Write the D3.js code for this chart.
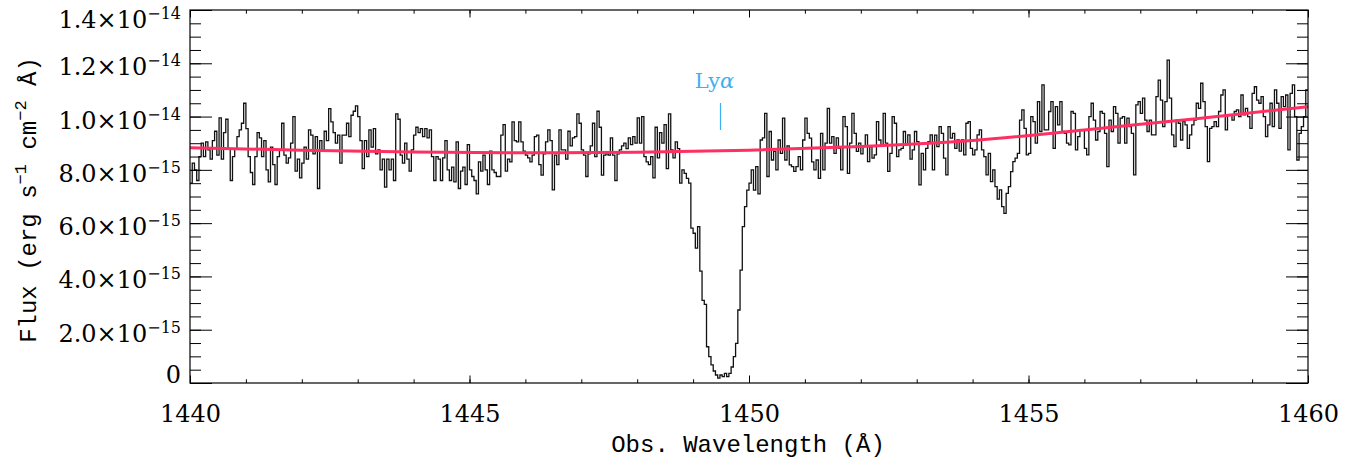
<!DOCTYPE html>
<html><head><meta charset="utf-8">
<script src="https://cdn.jsdelivr.net/npm/d3@7"></script>
<style>
body{margin:0;background:#fff}
svg{display:block}
text{font-family:"DejaVu Serif",serif;fill:#000}
.title{font-family:"Liberation Mono",monospace}
</style></head>
<body><svg id="c" width="1355" height="464"></svg>
<script>
// ---------------- data ----------------
const wavelengthStart = 1440;   // Å, left edge of first bin
const binWidth = 0.04;          // Å
// flux per bin, units of 1e-15 erg s^-1 cm^-2 Å^-1
const flux = [
7.5,8.25,8.0,7.6,8.5,9.0,8.5,9.05,8.75,8.4,
9.1,9.45,8.55,9.95,8.4,9.4,9.9,8.8,7.6,8.5,
8.8,9.25,9.5,9.75,10.5,9.55,8.5,7.9,7.45,8.5,
9.4,9.2,8.5,9.1,8.0,7.55,8.85,8.2,7.45,8.5,
8.75,9.75,8.55,8.25,8.45,9.0,10.0,7.95,8.4,7.7,
8.25,8.85,8.4,9.5,9.3,8.6,9.25,7.3,9.1,8.75,
9.45,9.1,10.3,9.8,9.4,9.0,9.3,8.25,9.3,9.3,
9.75,9.25,10.05,10.2,10.4,10.0,9.1,8.05,9.1,8.5,
9.5,8.85,9.55,8.6,8.75,8.0,8.4,7.35,8.4,8.0,
8.4,7.6,10.1,9.9,8.55,8.25,9.0,8.4,7.95,8.75,
9.3,9.6,9.4,9.55,9.25,9.55,9.2,9.5,8.5,7.6,
8.5,8.4,7.6,8.45,9.1,8.0,7.6,8.1,7.55,9.05,
7.3,7.95,8.1,7.45,8.95,8.0,7.75,7.6,7.1,8.3,
7.95,8.55,8.0,7.45,8.7,8.0,7.9,7.75,7.75,9.3,
9.7,7.95,8.4,8.3,9.8,9.1,9.05,9.8,9.05,8.7,
8.55,8.45,8.3,8.55,9.25,9.3,8.2,7.8,8.6,9.05,
9.5,9.1,7.25,8.55,8.2,9.5,8.75,8.75,8.4,9.45,
8.9,9.2,9.25,10.1,9.75,8.75,8.55,7.75,8.6,8.9,
9.75,8.5,10.2,9.6,7.8,8.55,8.6,8.55,9.2,8.55,
7.6,8.6,8.75,8.9,9.0,8.8,9.2,8.95,9.25,9.0,
9.95,9.0,10.0,8.5,8.3,8.2,8.5,7.7,9.6,8.45,
9.4,9.0,9.7,8.05,10.1,8.75,8.45,9.05,8.8,7.5,
8.0,7.87,7.68,7.5,5.81,5.62,5.06,5.87,4.2,3.1,
2.95,1.36,0.99,0.68,0.45,0.3,0.18,0.3,0.24,0.36,
0.24,0.36,0.6,0.99,1.49,2.74,4.24,5.87,6.62,7.24,
7.5,8.0,7.24,8.12,7.1,9.12,9.2,
10.12,7.75,9.44,8.37,8.69,8.0,9.12,8.62,9.94,8.37,8.9,
8.19,8.12,7.94,8.12,8.5,8.0,9.12,9.94,9.37,9.19,8.3,
8.0,8.37,7.68,9.37,8.0,9.0,10.31,9.0,9.25,8.62,9.2,
8.81,8.0,10.0,9.62,7.87,9.0,10.12,9.37,8.69,9.0,8.6,
8.87,9.31,8.31,8.87,8.44,8.56,9.81,9.12,8.94,10.12,9.0,
7.94,8.62,10.0,9.75,8.5,8.75,8.81,9.44,8.94,9.31,8.4,
8.75,9.44,9.06,7.44,8.62,8.0,8.81,9.06,9.31,8.0,9.3,
8.87,9.62,9.37,8.44,7.81,9.62,9.19,9.37,8.81,9.12,8.7,
9.12,8.56,9.75,9.81,8.81,8.56,8.75,9.31,9.5,8.75,8.5,
7.81,8.62,7.56,8.0,7.37,6.9,
7.25,6.62,6.37,7.12,7.37,7.93,8.31,8.44,8.62,9.87,
10.25,9.56,8.56,8.62,10.0,9.81,9.0,10.56,9.44,11.19,
9.5,9.5,10.19,10.56,8.81,10.37,9.69,10.56,9.44,9.37,
9.0,8.94,10.19,10.12,8.75,9.25,9.5,9.5,8.81,8.56,
10.0,10.5,9.87,9.12,9.44,10.19,10.12,9.37,8.12,9.87,
9.44,10.37,10.12,9.0,9.94,10.0,9.0,9.94,9.62,9.37,
7.81,10.44,10.56,10.12,10.69,9.87,9.44,9.87,9.31,9.31,
10.75,11.37,10.62,9.62,10.56,12.12,10.69,9.31,8.87,9.87,
9.75,9.12,9.81,9.69,8.81,9.31,9.69,9.87,10.5,10.31,
11.25,10.56,9.62,8.31,9.56,9.62,9.81,9.62,10.19,10.81,
11.0,9.5,10.06,10.06,9.87,10.19,10.25,10.0,10.81,10.06,
10.31,10.0,9.56,10.87,11.12,10.62,10.5,10.75,10.0,9.25,
9.69,10.5,9.62,11.0,10.5,9.56,10.75,10.37,10.81,8.75,
10.87,11.19,10.0,8.37,9.37,9.62,10.0,11.0
];
// continuum fit knots
const continuumWave = [1440,1442,1444,1446,1448,1450,1452,1454,1456,1458,1460];
const continuumFlux = [8.83,8.74,8.67,8.64,8.66,8.74,8.88,9.10,9.50,9.92,10.37];
// axes
const xTickValues = [1440,1445,1450,1455,1460];
const xMinorTicks = [1440,1441,1442,1443,1444,1445,1446,1447,1448,1449,1450,1451,1452,1453,1454,1455,1456,1457,1458,1459,1460];
const yTickValues = [0,2,4,6,8,10,12,14];
const yTickMantissa = ["0","2.0×10","4.0×10","6.0×10","8.0×10","1.0×10","1.2×10","1.4×10"];
const yTickExponent = ["","−15","−15","−15","−15","−14","−14","−14"];
// line marker
const lineName = "Ly", lineGreek = "α", lineWave = 1449.49;

// ---------------- drawing ----------------
const svg = d3.select("#c");
const X0=190, X1=1308, Y0=10, Y1=383;
const x = d3.scaleLinear().domain([1440,1460]).range([X0,X1]);
const y = d3.scaleLinear().domain([0,14]).range([Y1,Y0]);

svg.append("clipPath").attr("id","clip").append("rect")
  .attr("x",X0).attr("y",Y0).attr("width",X1-X0).attr("height",Y1-Y0);

// histogram spectrum
const pts = flux.map((v,i)=>[wavelengthStart+i*binWidth, v]);
pts.push([wavelengthStart+flux.length*binWidth, flux[flux.length-1]]);
svg.append("path").attr("clip-path","url(#clip)")
  .attr("d", d3.line().x(d=>x(d[0])).y(d=>y(d[1])).curve(d3.curveStepAfter)(pts))
  .attr("fill","none").attr("stroke","#111").attr("stroke-width",1.3);

// continuum
svg.append("path").attr("clip-path","url(#clip)")
  .attr("d", d3.line().x((d,i)=>x(continuumWave[i])).y(d=>y(d)).curve(d3.curveNatural)(continuumFlux))
  .attr("fill","none").attr("stroke","#ff2f62").attr("stroke-width",3);

// axes ticks
function tickGroup(axis, tx, ty){
  const g = svg.append("g").attr("transform",`translate(${tx},${ty})`).call(axis);
  g.select(".domain").remove();
  g.selectAll("line").attr("stroke","#000").attr("stroke-width",1);
  return g;
}
tickGroup(d3.axisBottom(x).tickValues(xMinorTicks).tickSize(-3.7).tickFormat(""),0,Y1);
tickGroup(d3.axisTop(x).tickValues(xMinorTicks).tickSize(-3.7).tickFormat(""),0,Y0);
tickGroup(d3.axisTop(x).tickValues(xTickValues).tickSize(-7.5).tickFormat(""),0,Y0);
const xb = tickGroup(d3.axisBottom(x).tickValues(xTickValues).tickSize(-7.5).tickPadding(22).tickFormat(d=>d),0,Y1);
xb.selectAll("text").attr("font-size",24).attr("font-family","DejaVu Serif").attr("fill","#000");

const yMinor = d3.range(0,14.01,0.5);
tickGroup(d3.axisLeft(y).tickValues(yMinor).tickSize(-11).tickFormat(""),X0,0);
tickGroup(d3.axisRight(y).tickValues(yMinor).tickSize(-11).tickFormat(""),X1,0);
tickGroup(d3.axisLeft(y).tickValues(yTickValues).tickSize(-22).tickFormat(""),X0,0);
tickGroup(d3.axisRight(y).tickValues(yTickValues).tickSize(-22).tickFormat(""),X1,0);

// frame
svg.append("rect").attr("x",X0).attr("y",Y0).attr("width",X1-X0).attr("height",Y1-Y0)
  .attr("fill","none").attr("stroke","#000").attr("stroke-width",1.2);

// y tick labels
yTickValues.forEach((v,i)=>{
  const by = i===0 ? y(v) : Math.max(y(v)+12, 28);
  const t = svg.append("text").attr("x",181).attr("y",by).attr("text-anchor","end").attr("font-size",24);
  t.append("tspan").text(yTickMantissa[i]);
  if (yTickExponent[i]) t.append("tspan").attr("dy",-9).attr("font-size",16).text(yTickExponent[i]);
});

// axis titles
svg.append("text").attr("class","title").attr("x",748).attr("y",452).attr("text-anchor","middle").attr("font-size",24)
  .text("Obs. Wavelength (Å)");
const yt = svg.append("text").attr("class","title").attr("transform","translate(36,200) rotate(-90)")
  .attr("text-anchor","middle").attr("font-size",24);
yt.append("tspan").text("Flux (erg s");
yt.append("tspan").attr("dy",-10).attr("font-size",17).text("−1");
yt.append("tspan").attr("dy",10).text(" cm");
yt.append("tspan").attr("dy",-10).attr("font-size",17).text("−2");
yt.append("tspan").attr("dy",10).text(" Å)");

// Lyα marker
const lx = x(lineWave);
svg.append("line").attr("x1",lx).attr("x2",lx).attr("y1",103).attr("y2",130)
  .attr("stroke","#3cb0f0").attr("stroke-width",1.2);
const lt = svg.append("text").attr("x",lx-6).attr("y",88).attr("text-anchor","middle")
  .attr("font-size",21).style("fill","#3cb0f0");
lt.append("tspan").text(lineName);
lt.append("tspan").attr("font-style","italic").text(lineGreek);
</script>
</body></html>
